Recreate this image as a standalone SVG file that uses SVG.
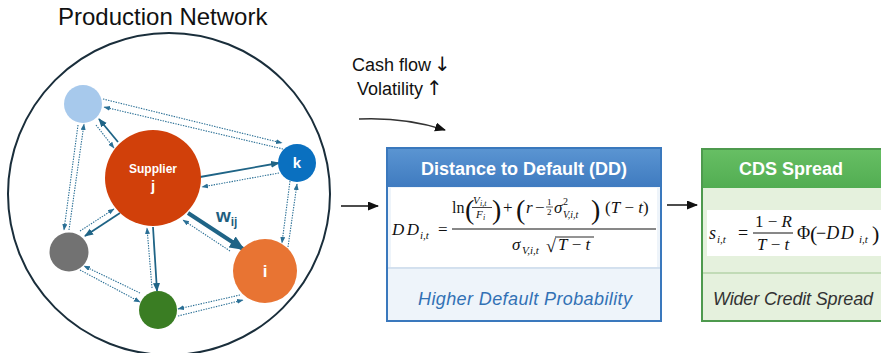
<svg xmlns="http://www.w3.org/2000/svg" width="881" height="353" viewBox="0 0 881 353">
<style>
.sans{font-family:"Liberation Sans",Arial,sans-serif}
.ser{font-family:"Liberation Serif","Times New Roman",serif}
.it{font-style:italic}
.arr{font-family:"DejaVu Sans","Liberation Sans",sans-serif;font-size:20px}
.solid{stroke:#1f6486;stroke-width:1.8;fill:none;marker-end:url(#as)}
.dot{stroke:#2a6f95;stroke-width:1.1;stroke-dasharray:1.4 1.2;fill:none;marker-end:url(#ad)}
.thick{stroke:#1f6486;stroke-width:4;fill:none;marker-end:url(#at)}
.nl{fill:#fff;font-weight:bold;text-anchor:middle}
</style>
<defs>
<marker id="as" markerUnits="userSpaceOnUse" markerWidth="10" markerHeight="8" refX="8" refY="3.5" orient="auto"><path d="M0,0 L9,3.5 L0,7 z" fill="#1f6486"/></marker>
<marker id="ad" markerUnits="userSpaceOnUse" markerWidth="8" markerHeight="6" refX="6" refY="2.5" orient="auto"><path d="M0,0 L6.5,2.5 L0,5 z" fill="#2a6f95"/></marker>
<marker id="at" markerUnits="userSpaceOnUse" markerWidth="16" markerHeight="13" refX="13" refY="6.5" orient="auto"><path d="M0,0 L15,6.5 L0,13 z" fill="#1f6486"/></marker>
<marker id="ab" markerUnits="userSpaceOnUse" markerWidth="12" markerHeight="10" refX="10" refY="4.5" orient="auto"><path d="M0,0 L11,4.5 L0,9 z" fill="#111"/></marker>
<linearGradient id="gb" x1="0" y1="0" x2="0" y2="1"><stop offset="0" stop-color="#5b95d2"/><stop offset="1" stop-color="#3f7bc0"/></linearGradient>
<linearGradient id="gg" x1="0" y1="0" x2="0" y2="1"><stop offset="0" stop-color="#67bf64"/><stop offset="1" stop-color="#52ad52"/></linearGradient>
</defs>
<rect width="881" height="353" fill="#fff"/>

<text class="sans" x="58" y="25" font-size="24" fill="#111">Production Network</text>
<circle cx="169" cy="194" r="161" fill="none" stroke="#1a2e3b" stroke-width="2"/>

<g id="connectors">
<path class="solid" d="M118,142 L99,119"/>
<path class="dot" d="M96,125 L114,148"/>
<path class="solid" d="M200,177 L279,163"/>
<path class="dot" d="M279,173 L202,187"/>
<path class="solid" d="M120,213 L85,236"/>
<path class="dot" d="M80,231 L114,209"/>
<path class="solid" d="M153,227 L157,291"/>
<path class="dot" d="M152,288 L147,228"/>
<path class="thick" d="M188,213 L243,249"/>
<path class="dot" d="M230,251 L183,220"/>
<path class="dot" d="M103,99 L282,143"/>
<path class="dot" d="M283,149 L104,107"/>
<path class="dot" d="M78,125 L64,230"/>
<path class="dot" d="M69,230 L84,124"/>
<path class="dot" d="M80,270 L140,302"/>
<path class="dot" d="M140,293 L84,266"/>
<path class="dot" d="M240,295 L178,309"/>
<path class="dot" d="M178,316 L243,300"/>
<path class="dot" d="M290,181 L282,243"/>
<path class="dot" d="M288,247 L297,184"/>
<path d="M359,119 Q405,117 445,130" fill="none" stroke="#333" stroke-width="1.5" marker-end="url(#ab)"/>
<path d="M341,206 L378,206" stroke="#111" stroke-width="1.5" marker-end="url(#ab)"/>
<path d="M667,205 L697,205" stroke="#111" stroke-width="1.5" marker-end="url(#ab)"/>
</g>

<g id="node-lightblue"><circle cx="83" cy="104" r="19" fill="#a7c9ec"/></g>
<g id="node-j"><circle cx="153" cy="178" r="48" fill="#d1400a"/>
<text class="sans nl" x="153" y="173" font-size="12">Supplier</text>
<text class="sans nl" x="153" y="191" font-size="15">j</text></g>
<g id="node-k"><circle cx="297" cy="163" r="19" fill="#0a70c0"/>
<text class="sans nl" x="297" y="168" font-size="15">k</text></g>
<g id="node-gray"><circle cx="69" cy="252" r="19.5" fill="#727272"/></g>
<g id="node-green"><circle cx="158" cy="310" r="19" fill="#3a7d23"/></g>
<g id="node-i"><circle cx="265" cy="271" r="32" fill="#e87433"/>
<text class="sans nl" x="265" y="277" font-size="17">i</text></g>
<text class="sans" x="216" y="222" font-size="19" font-weight="bold" fill="#1f5f80">w<tspan font-size="12" dy="4">ij</tspan></text>

<text class="sans" x="352" y="71" font-size="18" fill="#111">Cash flow<tspan class="arr" dx="3">↓</tspan></text>
<text class="sans" x="357" y="95" font-size="18" fill="#111">Volatility<tspan class="arr" dx="3">↑</tspan></text>

<g id="box-dd">
<rect x="387" y="148" width="274" height="173" fill="#eef4fa"/>
<rect x="391" y="188" width="266" height="79" fill="#fff"/>
<rect x="387" y="148" width="274" height="39" fill="url(#gb)"/>
<line x1="387" y1="268" x2="661" y2="268" stroke="#b9cde3" stroke-width="1"/>
<rect x="387" y="148" width="274" height="173" fill="none" stroke="#3a78bd" stroke-width="2"/>
<text class="sans" x="524" y="175" font-size="18" font-weight="bold" fill="#fff" text-anchor="middle">Distance to Default (DD)</text>
<text class="sans it" x="525" y="305" font-size="18" fill="#3271b5" text-anchor="middle" textLength="214">Higher Default Probability</text>
<g class="ser" fill="#111">
<text class="it" x="392" y="235" font-size="17" textLength="27">DD</text>
<text class="it" x="420" y="239" font-size="11">i,t</text>
<text x="438" y="235" font-size="17">=</text>
<text x="452" y="213" font-size="16">ln</text>
<text x="465" y="219" font-size="28">(</text>
<text class="it" x="473" y="204" font-size="11">V</text>
<text class="it" x="480" y="206" font-size="8">i,t</text>
<line x1="472" y1="207.5" x2="492" y2="207.5" stroke="#111" stroke-width="0.8"/>
<text class="it" x="476" y="218" font-size="11">F</text>
<text class="it" x="483" y="220" font-size="8">i</text>
<text x="492" y="219" font-size="28">)</text>
<text x="503" y="213" font-size="17">+</text>
<text x="516" y="219" font-size="28">(</text>
<text class="it" x="526" y="213" font-size="17">r</text>
<text x="535" y="213" font-size="17">−</text>
<text x="547" y="205" font-size="9">1</text>
<line x1="546" y1="207" x2="553" y2="207" stroke="#111" stroke-width="0.7"/>
<text x="547" y="215" font-size="9">2</text>
<text class="it" x="554" y="213" font-size="17">σ</text>
<text x="563" y="205" font-size="10">2</text>
<text class="it" x="563" y="218" font-size="10">V,i,t</text>
<text x="591" y="219" font-size="28">)</text>
<text x="605" y="213" font-size="17">(<tspan class="it">T</tspan> − <tspan class="it">t</tspan>)</text>
<line x1="452" y1="229" x2="656" y2="229" stroke="#111" stroke-width="1"/>
<text class="it" x="512" y="250" font-size="17">σ</text>
<text class="it" x="522" y="254" font-size="11">V,i,t</text>
<text x="546" y="252" font-size="18">√</text>
<line x1="555" y1="237" x2="594" y2="237" stroke="#111" stroke-width="0.9"/>
<text x="558" y="250" font-size="17"><tspan class="it">T</tspan> − <tspan class="it">t</tspan></text>
</g>
</g>

<g id="box-cds">
<rect x="702" y="149" width="190" height="172" fill="#e5f1dd"/>
<rect x="707" y="210" width="180" height="46" fill="#fff"/>
<rect x="702" y="149" width="190" height="39" fill="url(#gg)"/>
<line x1="702" y1="273" x2="881" y2="273" stroke="#9dc58f" stroke-width="1"/>
<rect x="702" y="149" width="190" height="172" fill="none" stroke="#4e9a4e" stroke-width="2"/>
<text class="sans" x="791" y="175" font-size="18" font-weight="bold" fill="#fff" text-anchor="middle">CDS Spread</text>
<text class="sans it" x="713" y="305" font-size="18" fill="#333" textLength="160">Wider Credit Spread</text>
<g class="ser" fill="#111">
<text class="it" x="709" y="239" font-size="18">s</text>
<text class="it" x="717" y="243" font-size="11">i,t</text>
<text x="738" y="239" font-size="18">=</text>
<text x="755" y="227" font-size="17">1 − <tspan class="it">R</tspan></text>
<line x1="753" y1="233" x2="793" y2="233" stroke="#111" stroke-width="1"/>
<text x="757" y="250" font-size="17"><tspan class="it">T</tspan> − <tspan class="it">t</tspan></text>
<text x="797" y="239" font-size="18">Φ</text>
<text x="810" y="241" font-size="22">(</text>
<text x="816" y="239" font-size="18">−<tspan class="it" letter-spacing="1.5">DD</tspan></text>
<text class="it" x="859" y="243" font-size="11">i,t</text>
<text x="872" y="241" font-size="22">)</text>
</g>
</g>
</svg>
